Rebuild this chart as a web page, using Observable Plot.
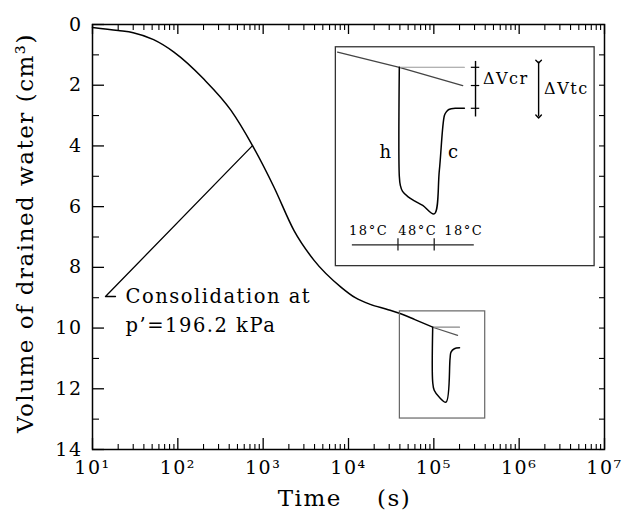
<!DOCTYPE html>
<html>
<head>
<meta charset="utf-8">
<script src="https://cdn.jsdelivr.net/npm/d3@7"></script>
<script src="https://cdn.jsdelivr.net/npm/@observablehq/plot@0.6"></script>
<style>
  body { margin: 0; background: #fff; }
</style>
</head>
<body>
<div id="chart"></div>
<script>
// Consolidation at p' = 196.2 kPa: drained water volume against time
const timeS     = [10, 20, 30, 52, 90, 200, 420, 750, 1340, 2300, 3950, 8150, 12000, 18000, 28000, 39400, 60000, 97000];
const volumeCm3 = [0.1, 0.2, 0.27, 0.5, 0.91, 1.79, 2.83, 3.99, 5.36, 6.79, 7.77, 8.65, 9.0, 9.22, 9.38, 9.51, 9.72, 9.97];

// Heating / cooling stage at true scale, with its framing box
const stageTime = [97000, 97000, 101000, 116000, 139000, 155000, 159000, 174000, 200000];
const stageVol  = [9.97, 11.78, 12.05, 12.28, 12.44, 11.0, 10.79, 10.68, 10.65];
const trendTime = [97000, 190000];
const trendVol  = [9.97, 10.24];
const levelTime = [97000, 200000];
const levelVol  = [9.97, 9.97];
const boxTime   = [40000, 400000];
const boxVol    = [9.45, 12.98];

// Enlarged sketch of the same stage
const insetBoxTime   = [7110, 7.66e6];
const insetBoxVol    = [0.75, 7.96];
const insetTrendTime = [7450, 39400, 218000];
const insetTrendVol  = [0.91, 1.41, 2.01];
const insetLevelTime = [39400, 228000];
const insetLevelVol  = [1.41, 1.41];
const insetStageTime = [39400, 39400, 40500, 43000, 50000, 60000, 74100, 101000, 116000, 133000, 140000, 150000, 182000, 228000];
const insetStageVol  = [1.41, 5.0, 5.3, 5.5, 5.68, 5.82, 5.96, 6.24, 4.81, 3.0, 2.88, 2.8, 2.76, 2.76];

// Temperature steps under the sketch
const tempBarTime   = [11100, 298000];
const tempBarVol    = 7.26;
const tempStepTime  = [38000, 101000];
const tempLabels    = ["18°C", "48°C", "18°C"];
const tempLabelTime = [17200, 64700, 224000];
const tempLabelVol  = 6.79;

// Volume change brackets
const dvcrTime   = 308000;
const dvcrVol    = [1.2, 3.03];
const dvcrLevels = [1.41, 2.01, 2.76];
const dvtcTime   = 1.69e6;
const dvtcVol    = [1.22, 3.03];
const bracketLabels    = ["ΔVcr", "ΔVtc"];
const bracketLabelTime = [377000, 1.96e6];
const bracketLabelVol  = [1.78, 2.11];

const branchLabels    = ["h", "c"];
const branchLabelTime = [27500, 171000];
const branchLabelVol  = [4.22, 4.22];

// Leader and note for the consolidation curve
const leaderTime = [750, 14.2, 18.6];
const leaderVol  = [3.99, 8.96, 8.96];
const noteLines  = ["Consolidation at", "p’=196.2 kPa"];
const noteTime   = 24.4;
const noteVol    = [8.96, 9.91];

// Axes
const decades  = d3.range(1, 8).map(k => 10 ** k);
const minorX   = d3.range(1, 7).flatMap(k => d3.range(2, 10).map(m => m * 10 ** k));
const majorY   = d3.range(0, 15, 2);
const minorY   = d3.range(1, 14, 2);
const allY     = d3.range(0, 15);
const supers   = ["⁰", "¹", "²", "³", "⁴", "⁵", "⁶", "⁷"];
const xTitle   = "Time\u00a0\u00a0\u00a0\u00a0(s)";
const yTitle   = "Volume of drained water (cm³)";

const W = 635, H = 517, mL = 92, mR = 31, mT = 24, mB = 68;
const fw = W - mL - mR, fh = H - mT - mB;

const chart = Plot.plot({
  width: W,
  height: H,
  marginLeft: mL,
  marginRight: mR,
  marginTop: mT,
  marginBottom: mB,
  style: { fontFamily: "DejaVu Serif", background: "white", color: "black", letterSpacing: "1.5px", overflow: "visible" },
  x: { type: "log", domain: [10, 1e7] },
  y: { domain: [0, 14], reverse: true },
  marks: [
    Plot.frame({ stroke: "black", strokeWidth: 1.5 }),

    // inward ticks on all four sides
    Plot.ruleX(decades, { insetTop: fh - 11, strokeWidth: 1.3 }),
    Plot.ruleX(minorX,  { insetTop: fh - 5,  strokeWidth: 1.1 }),
    Plot.ruleX(decades, { insetBottom: fh - 10, strokeWidth: 1.3 }),
    Plot.ruleX(minorX,  { insetBottom: fh - 6,  strokeWidth: 1.1 }),
    Plot.ruleY(majorY,  { insetRight: fw - 12, strokeWidth: 1.3 }),
    Plot.ruleY(minorY,  { insetRight: fw - 7,  strokeWidth: 1.1 }),
    Plot.ruleY(allY,    { insetLeft: fw - 5,   strokeWidth: 1.1 }),

    Plot.axisX(decades, { anchor: "bottom", tickSize: 0, tickPadding: 11, fontSize: 19,
      tickFormat: d => "10" + supers[Math.round(Math.log10(d))], label: null }),
    Plot.axisY(majorY, { anchor: "left", tickSize: 0, tickPadding: 10, fontSize: 19, label: null }),
    Plot.text([yTitle], { frameAnchor: "left", textAnchor: "middle", dx: -67, dy: -4, rotate: -90, fontSize: 23 }),
    Plot.text([xTitle], { frameAnchor: "bottom", textAnchor: "middle", dx: -4, dy: 56, fontSize: 23 }),

    // consolidation curve
    Plot.line(timeS, { x: timeS, y: volumeCm3, curve: "monotone-x", stroke: "black", strokeWidth: 1.5 }),
    Plot.line(leaderTime, { x: leaderTime, y: leaderVol, stroke: "black", strokeWidth: 1.3 }),
    Plot.text(noteLines, { x: () => noteTime, y: noteVol, textAnchor: "start", fontSize: 19.5 }),

    // stage at true scale
    Plot.rect([0], { x1: [boxTime[0]], x2: [boxTime[1]], y1: [boxVol[0]], y2: [boxVol[1]],
      fill: "none", stroke: "#666", strokeWidth: 1.2 }),
    Plot.line(trendTime, { x: trendTime, y: trendVol, stroke: "#555", strokeWidth: 1.1 }),
    Plot.line(levelTime, { x: levelTime, y: levelVol, stroke: "#888", strokeWidth: 1.1 }),
    Plot.line(stageTime, { x: stageTime, y: stageVol, curve: "catmull-rom", stroke: "black", strokeWidth: 1.5 }),

    // enlarged sketch
    Plot.rect([0], { x1: [insetBoxTime[0]], x2: [insetBoxTime[1]], y1: [insetBoxVol[0]], y2: [insetBoxVol[1]],
      fill: "none", stroke: "#333", strokeWidth: 1.3 }),
    Plot.line(insetTrendTime, { x: insetTrendTime, y: insetTrendVol, stroke: "#444", strokeWidth: 1.3 }),
    Plot.line(insetLevelTime, { x: insetLevelTime, y: insetLevelVol, stroke: "#999", strokeWidth: 1.1 }),
    Plot.line(insetStageTime, { x: insetStageTime, y: insetStageVol, curve: "catmull-rom", stroke: "black", strokeWidth: 1.5 }),
    Plot.text(branchLabels, { x: branchLabelTime, y: branchLabelVol, fontSize: 18 }),

    // temperature steps
    Plot.ruleY([tempBarVol], { x1: () => tempBarTime[0], x2: () => tempBarTime[1], stroke: "#222", strokeWidth: 1.2 }),
    Plot.ruleX(tempStepTime, { y1: () => tempBarVol - 0.2, y2: () => tempBarVol + 0.2, stroke: "#222", strokeWidth: 1.3 }),
    Plot.text(tempLabels, { x: tempLabelTime, y: () => tempLabelVol, fontSize: 13 }),

    // volume change brackets
    Plot.link([0], { x1: [dvcrTime], x2: [dvcrTime], y1: [dvcrVol[0]], y2: [dvcrVol[1]], stroke: "black", strokeWidth: 1.4 }),
    Plot.ruleY(dvcrLevels, { x1: () => dvcrTime / 1.12, x2: () => dvcrTime * 1.12, stroke: "black", strokeWidth: 1.2 }),
    Plot.link([0], { x1: [dvtcTime], x2: [dvtcTime], y1: [dvtcVol[0]], y2: [dvtcVol[1]],
      stroke: "black", strokeWidth: 1.4, markerStart: "arrow", markerEnd: "arrow" }),
    Plot.text(bracketLabels, { x: bracketLabelTime, y: bracketLabelVol, textAnchor: "start", fontSize: 16 })
  ]
});

document.getElementById("chart").appendChild(chart);
</script>
</body>
</html>
